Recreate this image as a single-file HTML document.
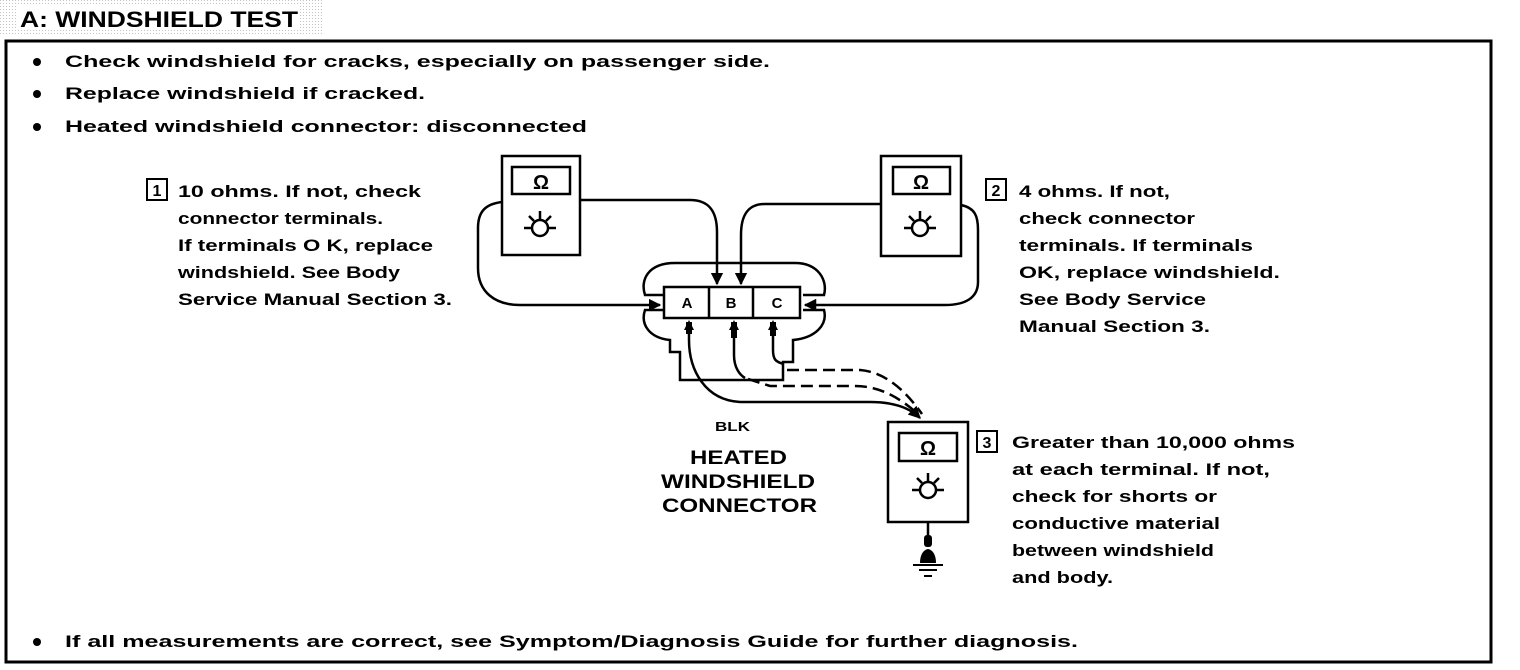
<!DOCTYPE html>
<html><head><meta charset="utf-8"><style>
html,body{margin:0;padding:0;background:#fff;}
svg{display:block;}
text{font-family:"Liberation Sans",sans-serif;font-weight:bold;fill:#000;}
</style></head><body>
<svg width="1520" height="670" viewBox="0 0 1520 670" xmlns="http://www.w3.org/2000/svg">
<defs>
<pattern id="dots" width="3" height="3" patternUnits="userSpaceOnUse"><rect width="1" height="1" fill="#888"/></pattern>
<marker id="ar" viewBox="0 0 10 10" refX="9" refY="5" markerWidth="5" markerHeight="5" orient="auto" markerUnits="strokeWidth"><path d="M0,0 L10,5 L0,10 z" fill="#000"/></marker>
</defs>
<rect x="0" y="0" width="322" height="34" fill="url(#dots)" opacity="0.5"/>
<rect x="18" y="4" width="282" height="26" fill="#fff"/>
<text x="20" y="27" font-size="22" textLength="278" lengthAdjust="spacingAndGlyphs">A: WINDSHIELD TEST</text>
<rect x="6" y="41" width="1485" height="621" fill="none" stroke="#000" stroke-width="3"/>

<g font-size="17">
<circle cx="37" cy="62" r="4"/><text x="65" y="67" textLength="705" lengthAdjust="spacingAndGlyphs">Check windshield for cracks, especially on passenger side.</text>
<circle cx="37" cy="94" r="4"/><text x="65" y="99" textLength="360" lengthAdjust="spacingAndGlyphs">Replace windshield if cracked.</text>
<circle cx="37" cy="127" r="4"/><text x="65" y="132" textLength="522" lengthAdjust="spacingAndGlyphs">Heated windshield connector: disconnected</text>
<circle cx="37" cy="642" r="4"/><text x="65" y="647" textLength="1013" lengthAdjust="spacingAndGlyphs">If all measurements are correct, see Symptom/Diagnosis Guide for further diagnosis.</text>

<rect x="147" y="179" width="20" height="21" fill="none" stroke="#000" stroke-width="2"/><text x="157" y="196" font-size="16" text-anchor="middle">1</text>
<text x="178" y="197" textLength="243" lengthAdjust="spacingAndGlyphs">10 ohms. If not, check</text>
<text x="178" y="224" textLength="205" lengthAdjust="spacingAndGlyphs">connector terminals.</text>
<text x="178" y="251" textLength="255" lengthAdjust="spacingAndGlyphs">If terminals O K, replace</text>
<text x="178" y="278" textLength="222" lengthAdjust="spacingAndGlyphs">windshield. See Body</text>
<text x="178" y="305" textLength="274" lengthAdjust="spacingAndGlyphs">Service Manual Section 3.</text>

<rect x="986" y="179" width="20" height="21" fill="none" stroke="#000" stroke-width="2"/><text x="996" y="196" font-size="16" text-anchor="middle">2</text>
<text x="1019" y="197" textLength="151" lengthAdjust="spacingAndGlyphs">4 ohms. If not,</text>
<text x="1019" y="224" textLength="176" lengthAdjust="spacingAndGlyphs">check connector</text>
<text x="1019" y="251" textLength="234" lengthAdjust="spacingAndGlyphs">terminals. If terminals</text>
<text x="1019" y="278" textLength="261" lengthAdjust="spacingAndGlyphs">OK, replace windshield.</text>
<text x="1019" y="305" textLength="187" lengthAdjust="spacingAndGlyphs">See Body Service</text>
<text x="1019" y="332" textLength="191" lengthAdjust="spacingAndGlyphs">Manual Section 3.</text>

<rect x="977" y="431" width="20" height="21" fill="none" stroke="#000" stroke-width="2"/><text x="987" y="448" font-size="16" text-anchor="middle">3</text>
<text x="1012" y="448" textLength="283" lengthAdjust="spacingAndGlyphs">Greater than 10,000 ohms</text>
<text x="1012" y="475" textLength="258" lengthAdjust="spacingAndGlyphs">at each terminal. If not,</text>
<text x="1012" y="502" textLength="205" lengthAdjust="spacingAndGlyphs">check for shorts or</text>
<text x="1012" y="529" textLength="208" lengthAdjust="spacingAndGlyphs">conductive material</text>
<text x="1012" y="556" textLength="202" lengthAdjust="spacingAndGlyphs">between windshield</text>
<text x="1012" y="583" textLength="101" lengthAdjust="spacingAndGlyphs">and body.</text>
</g>

<text x="715" y="431" font-size="13" textLength="35" lengthAdjust="spacingAndGlyphs">BLK</text>
<text x="690" y="464" font-size="19" textLength="97" lengthAdjust="spacingAndGlyphs">HEATED</text>
<text x="661" y="488" font-size="19" textLength="154" lengthAdjust="spacingAndGlyphs">WINDSHIELD</text>
<text x="662" y="512" font-size="19" textLength="155" lengthAdjust="spacingAndGlyphs">CONNECTOR</text>

<g font-size="20" text-anchor="middle">
<text x="541" y="189">Ω</text>
<text x="921" y="189">Ω</text>
<text x="928" y="455">Ω</text>
</g>

<g fill="none" stroke="#000" stroke-width="2.5">
<rect x="502" y="156" width="78" height="99"/>
<rect x="512" y="167" width="58" height="27"/>
<rect x="881" y="156" width="80" height="100"/>
<rect x="893" y="167" width="57" height="27"/>
<rect x="888" y="422" width="80" height="100"/>
<rect x="899" y="433" width="58" height="28"/>
<g><circle cx="540" cy="228" r="8"/><path d="M540,211 v9 M524,228 h8 M548,228 h8 M529,216 l5,5 M551,216 l-5,5"/></g>
<g><circle cx="920" cy="228" r="8"/><path d="M920,211 v9 M904,228 h8 M928,228 h8 M909,216 l5,5 M931,216 l-5,5"/></g>
<g><circle cx="928" cy="490" r="8"/><path d="M928,473 v9 M912,490 h8 M936,490 h8 M917,478 l5,5 M939,478 l-5,5"/></g>

<rect x="664" y="287" width="136" height="31" fill="#fff"/>
<path d="M709,287 v31 M753,287 v31"/>
<path d="M664,295 H645 C640,280 648,263 675,263 H795 C818,263 828,280 824,295 H803"/>
<path d="M664,310 H645 C640,325 650,338 670,340 V352 H680 V380 H783 V362 H793 V340 C815,338 828,325 824,310 H803"/>

<path d="M502,202 C485,204 478,212 478,228 V268 C478,292 495,305 520,305 H660" marker-end="url(#ar)"/>
<path d="M580,200 H690 C708,200 717,210 717,232 V284" marker-end="url(#ar)"/>
<path d="M881,204 H765 C748,204 741,215 741,235 V284" marker-end="url(#ar)"/>
<path d="M961,205 C975,208 978,216 978,230 V282 C978,298 965,305 945,305 H805" marker-end="url(#ar)"/>
<path d="M689,322 V340 C689,370 705,400 740,402 H870 C895,402 910,408 920,418" marker-end="url(#ar)"/>
<path d="M734,322 V355 C734,368 740,375 745,378"/>
<path d="M773,322 V350 C773,360 776,362 784,364"/>
<path d="M748,379 L770,386 H855 C880,386 900,398 918,414" stroke-dasharray="12,6"/>
<path d="M787,370 H860 C885,372 905,390 922,414" stroke-dasharray="12,6"/>
<path d="M928,522 V536"/>
</g>
<g font-size="15" text-anchor="middle">
<text x="687" y="308">A</text>
<text x="731" y="308">B</text>
<text x="777" y="308">C</text>
</g>
<g fill="#000">
<rect x="686" y="322" width="6" height="12"/>
<rect x="731" y="322" width="6" height="16"/>
<rect x="770" y="322" width="6" height="14"/>
<path d="M689,320 l-5,10 h10z M734,320 l-5,10 h10z M773,320 l-5,10 h10z"/>
<rect x="924" y="535" width="8" height="12" rx="3"/>
<path d="M920,563 C920,555 923,550 928,549 C933,550 936,555 936,563 z"/>
</g>
<path d="M913,565 h30 M919,570 h18 M924,576 h8" stroke="#000" stroke-width="2"/>
</svg>
</body></html>
